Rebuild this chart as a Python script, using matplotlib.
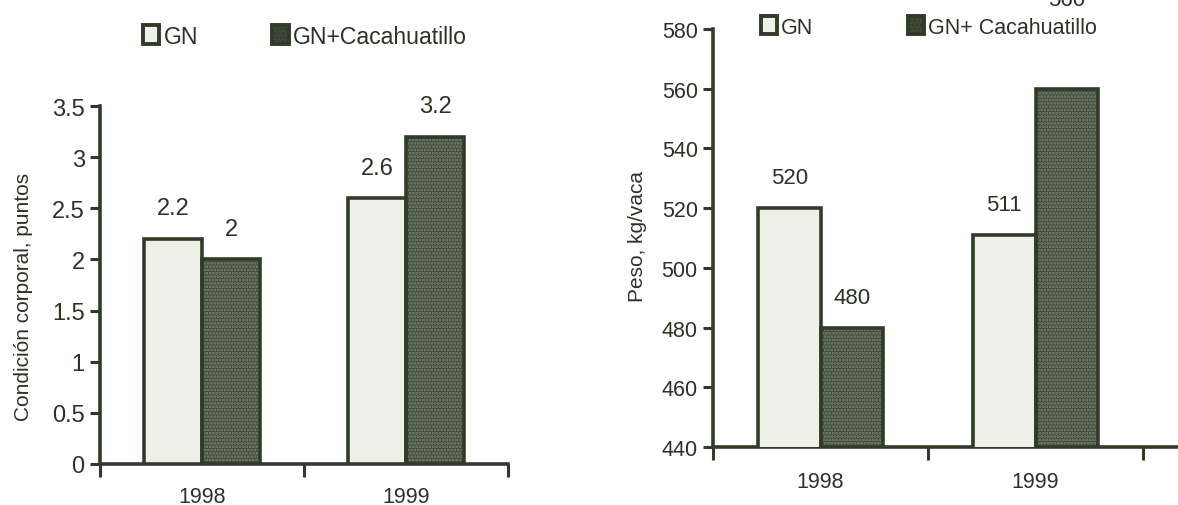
import numpy as np
import matplotlib
matplotlib.use("Agg")
import matplotlib.pyplot as plt
from matplotlib.patches import Patch

plt.rcParams['font.family'] = ['Liberation Sans', 'DejaVu Sans']
plt.rcParams['hatch.linewidth'] = 1.4

years = ['1998', '1999']
series = ['GN', 'GN+Cacahuatillo']

# condicion corporal (puntos)
cc_gn = [2.2, 2.6]
cc_cac = [2.0, 3.2]
cc_labels_gn = ['2.2', '2.6']
cc_labels_cac = ['2', '3.2']

# peso (kg/vaca)
peso_gn = [520, 511]
peso_cac = [480, 560]
peso_labels_gn = ['520', '511']
peso_labels_cac = ['480', '560']

INK = '#303b29'
TXT = '#2b3226'
LIGHT = '#eff1e9'
DARK = '#404a3a'
SPECK = '#7c8574'


def draw_bars(ax, x, vals, width, dark):
    if dark:
        ax.bar(x, vals, width, color=DARK, edgecolor=SPECK, hatch='.....',
               linewidth=0, zorder=2)
        ax.bar(x, vals, width, fill=False, edgecolor=INK, linewidth=2.6, zorder=3)
    else:
        ax.bar(x, vals, width, color=LIGHT, edgecolor=INK, linewidth=2.6, zorder=3)


def style_axis(ax, fs, xfs, xpad):
    for s in ['top', 'right']:
        ax.spines[s].set_visible(False)
    for s in ['left', 'bottom']:
        ax.spines[s].set_color(INK)
        ax.spines[s].set_linewidth(2.6)
    ax.tick_params(axis='y', which='major', direction='out', length=7, width=2.2,
                   color=INK, labelcolor=TXT, labelsize=fs, pad=4)
    ax.tick_params(axis='x', which='major', direction='out', length=9, width=2.2,
                   color=INK, labelbottom=False)
    ax.tick_params(axis='x', which='minor', length=0, labelcolor=TXT,
                   labelsize=xfs, pad=xpad)


def add_legend(fig, x, y, fs, gap, label2):
    handles = [Patch(facecolor=LIGHT, edgecolor=INK, linewidth=2.8),
               Patch(facecolor=DARK, edgecolor=INK, linewidth=2.8, hatch='....')]
    fig.legend(handles, ['GN', label2], loc='center', bbox_to_anchor=(x, y),
               ncol=2, frameon=False, fontsize=fs, handlelength=0.72,
               handleheight=0.85, handletextpad=0.2, columnspacing=gap,
               labelcolor=TXT)


fig = plt.figure(figsize=(11.78, 5.06), dpi=100)

# --- condicion corporal ---
ax1 = fig.add_axes([100 / 1178, 1 - 465 / 506, 408 / 1178, 358 / 506])
w1 = 0.285
xc = np.arange(len(years)) + 0.5
draw_bars(ax1, xc - w1 / 2, cc_gn, w1, False)
draw_bars(ax1, xc + w1 / 2, cc_cac, w1, True)
ax1.set_xlim(0, 2)
ax1.set_ylim(0, 3.5)
ax1.set_yticks(np.arange(0, 3.51, 0.5))
ax1.set_yticklabels(['0', '0.5', '1', '1.5', '2', '2.5', '3', '3.5'])
ax1.set_xticks([0, 1, 2])
ax1.set_xticks(xc, minor=True)
ax1.set_xticklabels(years, minor=True)
style_axis(ax1, 17, 15.5, 16)
for xi, v, t in zip(xc - w1 / 2, cc_gn, cc_labels_gn):
    ax1.annotate(t, (xi, v), xytext=(0, 22), textcoords='offset points',
                 ha='center', va='center', fontsize=17, color=TXT)
for xi, v, t in zip(xc + w1 / 2, cc_cac, cc_labels_cac):
    ax1.annotate(t, (xi, v), xytext=(0, 22), textcoords='offset points',
                 ha='center', va='center', fontsize=17, color=TXT)
ax1.set_ylabel('Condición corporal, puntos', fontsize=15, color=TXT)
ax1.yaxis.set_label_coords(-0.164, 0.47)
add_legend(fig, 305 / 1178, 1 - 37 / 506, 16.6, 3.2, 'GN+Cacahuatillo')

# --- peso ---
ax2 = fig.add_axes([713 / 1178, 1 - 448 / 506, 465 / 1178, 418 / 506])
w2 = 0.29
draw_bars(ax2, xc - w2 / 2, peso_gn, w2, False)
draw_bars(ax2, xc + w2 / 2, peso_cac, w2, True)
ax2.set_xlim(0, 465 / 215)
ax2.set_ylim(440, 580)
ax2.set_yticks(np.arange(440, 581, 20))
ax2.set_xticks([0, 1, 2])
ax2.set_xticks(xc, minor=True)
ax2.set_xticklabels(years, minor=True)
style_axis(ax2, 15.5, 15.5, 17)
for xi, v, t in zip(xc - w2 / 2, peso_gn, peso_labels_gn):
    ax2.annotate(t, (xi, v), xytext=(0, 22), textcoords='offset points',
                 ha='center', va='center', fontsize=16, color=TXT)
for xi, v, t, dy in zip(xc + w2 / 2, peso_cac, peso_labels_cac, [22, 64]):
    ax2.annotate(t, (xi, v), xytext=(0, dy), textcoords='offset points',
                 ha='center', va='center', fontsize=16, color=TXT,
                 annotation_clip=False)
ax2.set_ylabel('Peso, kg/vaca', fontsize=15, color=TXT)
ax2.yaxis.set_label_coords(-0.142, 0.505)
add_legend(fig, 929 / 1178, 1 - 28 / 506, 15.5, 4.4, 'GN+ Cacahuatillo')

fig.savefig('out.png', dpi=100)
